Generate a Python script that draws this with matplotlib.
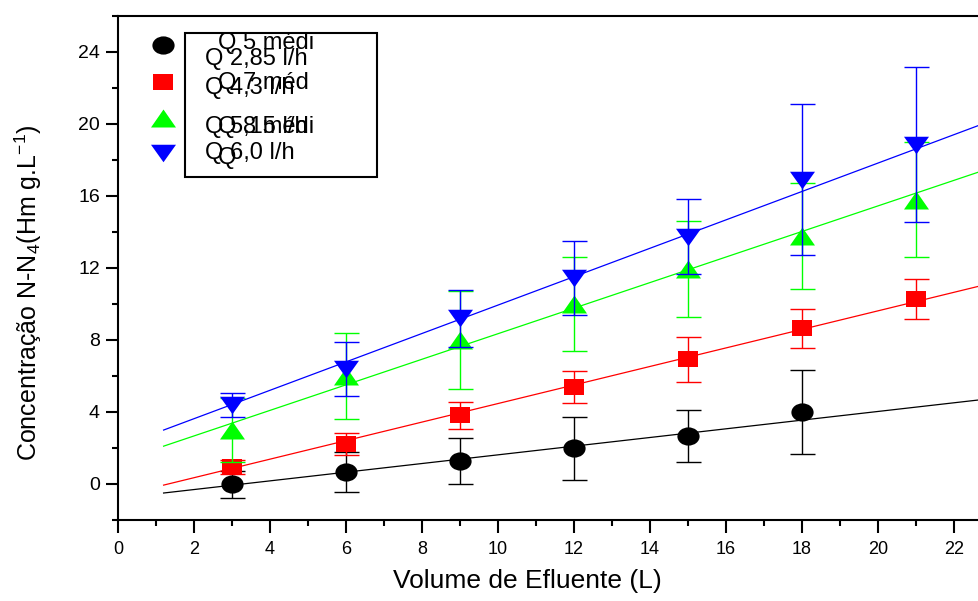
import numpy as np
import matplotlib
matplotlib.use("Agg")
import matplotlib.pyplot as plt
from matplotlib.path import Path
from matplotlib.transforms import Affine2D
from matplotlib.lines import Line2D
from matplotlib.patches import Rectangle
from matplotlib.ticker import MultipleLocator

plt.rcParams['font.family'] = ['Liberation Sans', 'DejaVu Sans']
plt.rcParams['mathtext.fontset'] = 'custom'
plt.rcParams['mathtext.rm'] = 'Liberation Sans'
plt.rcParams['mathtext.it'] = 'Liberation Sans:italic'

# data
volume = [3, 6, 9, 12, 15, 18, 21]

q285 = [0.0, 0.67, 1.28, 2.0, 2.67, 4.0]
q285_err = [0.75, 1.1, 1.3, 1.75, 1.45, 2.35]
q43 = [0.94, 2.22, 3.83, 5.39, 6.94, 8.64, 10.28]
q43_err = [0.37, 0.6, 0.75, 0.9, 1.25, 1.1, 1.1]
q515 = [3.0, 6.0, 8.0, 10.0, 11.95, 13.8, 15.8]
q515_err = [1.8, 2.4, 2.7, 2.6, 2.67, 2.95, 3.2]
q60 = [4.4, 6.4, 9.2, 11.44, 13.75, 16.9, 18.86]
q60_err = [0.65, 1.5, 1.6, 2.05, 2.08, 4.2, 4.3]

# linear fits as drawn (slope, intercept)
fit_285 = (0.241, -0.79)
fit_43 = (0.515, -0.68)
fit_515 = (0.71, 1.25)
fit_60 = (0.789, 2.05)
fit_x = [1.2, 23.0]

labels_a = ["Q 2,85 l/h", "Q 4,3 l/h", "Q 5,15 l/h", "Q 6,0 l/h"]
labels_b = ["Q 5 médi", "Q 7 méd", "Q 8 médi", "Q"]

# squashed marker shapes
ellipse = Path.unit_circle().transformed(Affine2D().scale(1, 0.82))
square = Path([(-1, -0.8), (1, -0.8), (1, 0.8), (-1, 0.8), (-1, -0.8)], closed=True)
tri_up = Path([(0, 0.72), (-1, -0.72), (1, -0.72), (0, 0.72)], closed=True)
tri_dn = Path([(0, -0.7), (-1, 0.7), (1, 0.7), (0, -0.7)], closed=True)

series = [
    (q285, q285_err, fit_285, "black", ellipse, 16),
    (q43, q43_err, fit_43, "#ff0000", square, 15),
    (q515, q515_err, fit_515, "#00ff00", tri_up, 18),
    (q60, q60_err, fit_60, "#0000ff", tri_dn, 18),
]

W, H = 979, 601
fig = plt.figure(figsize=(W / 100, H / 100), dpi=100)
ax = fig.add_axes([118 / W, 1 - 520 / H, 1 - 118 / W, (520 - 16) / H])

for vals, errs, fit, col, mk, ms in series:
    xs = volume[:len(vals)]
    fy = [fit[0] * x + fit[1] for x in fit_x]
    ax.plot(fit_x, fy, color=col, lw=0.9)
    ax.plot(xs, vals, ls="none", marker=mk, ms=ms, color=col, mec=col, mew=0)
    ax.errorbar(xs, vals, yerr=errs, fmt="none", ecolor=col, elinewidth=1,
                capsize=9, capthick=1)

ax.set_xlim(0, (W - 118) / 38)
ax.set_ylim(-2, 26)
ax.xaxis.set_major_locator(MultipleLocator(2))
ax.xaxis.set_minor_locator(MultipleLocator(1))
ax.yaxis.set_major_locator(MultipleLocator(4))
ax.yaxis.set_minor_locator(MultipleLocator(2))
ax.tick_params(which="major", direction="out", length=9, width=1.5)
ax.tick_params(which="minor", direction="out", length=4.5, width=1.5)
ax.tick_params(axis="x", labelsize=13, pad=6)
ax.tick_params(axis="y", labelsize=14, pad=4)
for s in ["left", "bottom", "top"]:
    ax.spines[s].set_linewidth(1.5)
ax.spines["right"].set_visible(False)

ax.set_xlabel("Volume de Efluente (L)", fontsize=19)
ax.set_ylabel("Concentração N-N$_4$(Hm g.L$^{-1}$)", fontsize=18)
ax.xaxis.set_label_coords(0.475, -0.098)
ax.yaxis.set_label_coords(-0.086, 0.45)

# broken legend drawn as in the original
fig.add_artist(Rectangle((185 / W, 1 - 177 / H), (377 - 185) / W, (177 - 33) / H,
                         fill=False, lw=1.5, ec="black", transform=fig.transFigure))
leg_y = [45, 82, 118, 153]
for (vals, errs, fit, col, mk, ms), py in zip(series, leg_y):
    fig.add_artist(Line2D([163 / W], [1 - py / H], transform=fig.transFigure,
                          ls="none", marker=mk, ms=ms, color=col, mew=0))
for txt, py in zip(labels_a, [59, 88, 127, 153]):
    fig.text(205 / W, 1 - py / H, txt, fontsize=17, va="center")
for txt, py in zip(labels_b, [43, 83, 127, 158]):
    fig.text(218 / W, 1 - py / H, txt, fontsize=17, va="center")

fig.savefig("out.png", dpi=100)
